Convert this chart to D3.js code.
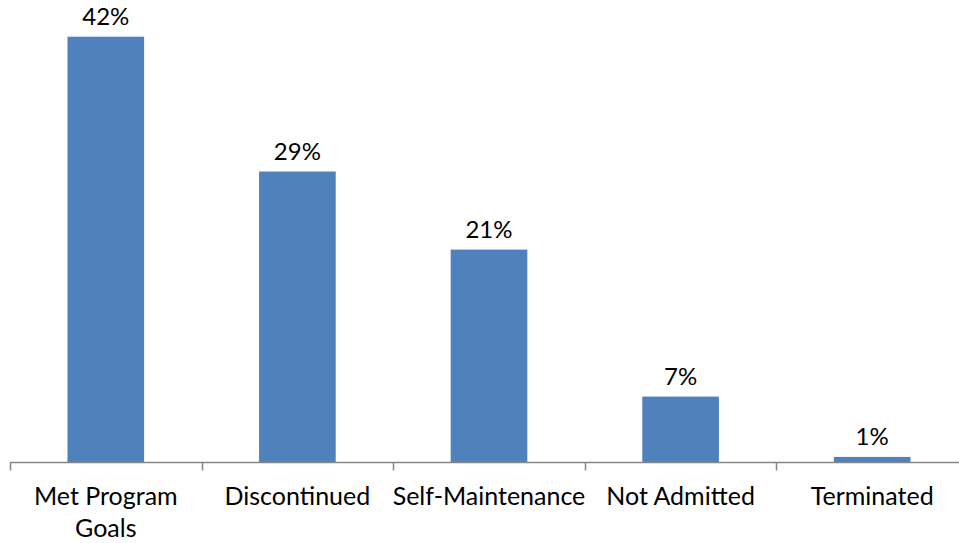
<!DOCTYPE html>
<html>
<head>
<meta charset="utf-8">
<script src="https://cdn.jsdelivr.net/npm/d3@7"></script>
<style>
  html, body { margin: 0; padding: 0; background: #fff; }
  svg { display: block; }
  text { font-family: Lato, "Open Sans", sans-serif; fill: #000; }
</style>
</head>
<body>
<svg id="chart" width="959" height="543"></svg>
<script>
const categories = ["Met Program Goals", "Discontinued", "Self-Maintenance", "Not Admitted", "Terminated"];
const values = [42, 28.7, 21, 6.5, 0.55];
const valueLabels = ["42%", "29%", "21%", "7%", "1%"];

const W = 959, H = 543;
const svg = d3.select("#chart");
const x0 = 10, x1 = 968, baseY = 462.5;

const x = d3.scaleBand().domain(categories).range([x0, x1]).paddingInner(0.6).paddingOuter(0.3);
const y = d3.scaleLinear().domain([0, 42]).range([baseY, 36.7]);

const data = categories.map((c, i) => ({ c, v: values[i], l: valueLabels[i] }));

svg.selectAll("rect.bar").data(data).join("rect")
  .attr("class", "bar")
  .attr("x", d => x(d.c))
  .attr("width", x.bandwidth())
  .attr("y", d => y(d.v))
  .attr("height", d => y(0) - y(d.v))
  .attr("fill", "#4f81bd");

svg.selectAll("text.val").data(data).join("text")
  .attr("class", "val")
  .attr("x", d => x(d.c) + x.bandwidth() / 2)
  .attr("y", d => y(d.v) - 12)
  .attr("text-anchor", "middle")
  .style("font-size", "24px")
  .text(d => d.l);

// axis
const step = x.step();
const axisG = svg.append("g");
axisG.append("line")
  .attr("x1", x0).attr("x2", W)
  .attr("y1", baseY).attr("y2", baseY)
  .attr("stroke", "#868686").attr("stroke-width", 1.5);
const tickXs = d3.range(categories.length + 1).map(i => x0 + i * step);
axisG.selectAll("line.tick").data(tickXs).join("line")
  .attr("class", "tick")
  .attr("x1", d => Math.round(d) + 0.5).attr("x2", d => Math.round(d) + 0.5)
  .attr("y1", baseY).attr("y2", baseY + 8)
  .attr("stroke", "#868686").attr("stroke-width", 1.5);

// category labels with wrapping
const fontSize = 25;
const labels = svg.selectAll("text.cat").data(categories).join("text")
  .attr("class", "cat")
  .attr("text-anchor", "middle")
  .style("font-size", fontSize + "px")
  .attr("y", 505);

labels.each(function(d) {
  const t = d3.select(this);
  const cx = x(d) + x.bandwidth() / 2;
  const words = d.split(" ");
  let line = [];
  let lines = [];
  const tmp = t.append("tspan").attr("x", cx);
  words.forEach(w => {
    const test = line.concat([w]).join(" ");
    tmp.text(test);
    if (tmp.node().getComputedTextLength() > step - 8 && line.length) {
      lines.push(line.join(" "));
      line = [w];
    } else {
      line.push(w);
    }
  });
  lines.push(line.join(" "));
  tmp.remove();
  lines.forEach((ln, i) => {
    t.append("tspan").attr("x", cx).attr("dy", i === 0 ? 0 : 32).text(ln);
  });
});
</script>
</body>
</html>
